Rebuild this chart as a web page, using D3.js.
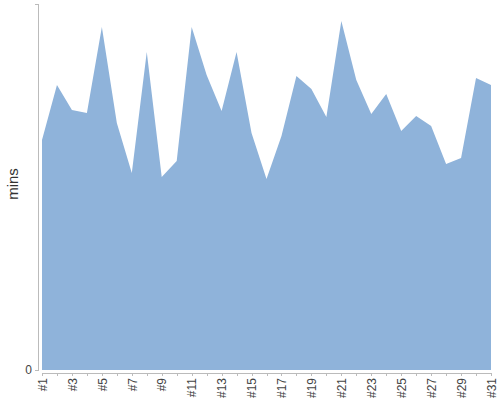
<!DOCTYPE html>
<meta charset="utf-8">
<style>
  body {
    margin: 0;
    font-family: "Liberation Sans", Arial, sans-serif;
  }
  .area {
    fill: #8fb3da;
  }
  .axis text {
    font-size: 12px;
    fill: #444;
  }
  .axis path, .axis line {
    stroke: #bbb;
    shape-rendering: crispEdges;
  }
</style>
<body>
<script src="https://d3js.org/d3.v7.min.js"></script>
<script>

var days = d3.range(1, 32);
var labels = days.map(function(d) { return "#" + d; });
var mins = [230, 285, 260, 257, 343, 247, 197, 318, 193, 209,
            343, 295, 259, 318, 237, 191, 234, 294, 281, 253,
            349, 290, 256, 276, 239, 254, 244, 206, 212, 292, 285];
var yTicks = [0];

var width = 500,
    height = 400;

var x = d3.scalePoint()
    .domain(labels)
    .range([42, 491]);

var y = d3.scaleLinear()
    .domain([0, 366])
    .range([370, 4]);

var svg = d3.select("body").append("svg")
    .attr("width", width)
    .attr("height", height);

var area = d3.area()
    .x(function(d, i) { return x(labels[i]); })
    .y0(y(0))
    .y1(function(d) { return y(d); });

svg.append("path")
    .datum(mins)
    .attr("class", "area")
    .attr("d", area);

// x axis sits a few px under the area
var xAxis = svg.append("g")
    .attr("class", "axis")
    .attr("transform", "translate(0,373)")
    .call(d3.axisBottom(x)
      .tickSizeOuter(0)
      .tickSize(3)
      .tickFormat(function(d, i) { return i % 2 == 0 ? d : ""; }));

xAxis.selectAll("text")
    .attr("transform", "rotate(-90)")
    .attr("text-anchor", "end")
    .attr("x", -5)
    .attr("y", 0)
    .attr("dy", ".35em");

svg.append("g")
    .attr("class", "axis")
    .attr("transform", "translate(38,0)")
    .call(d3.axisLeft(y)
      .tickValues(yTicks)
      .tickSizeOuter(0)
      .tickSize(3));

svg.append("text")
    .attr("transform", "translate(18,184)rotate(-90)")
    .attr("text-anchor", "middle")
    .style("font-size", "15px")
    .style("fill", "#333")
    .text("mins");

</script>
</body>
</html>
